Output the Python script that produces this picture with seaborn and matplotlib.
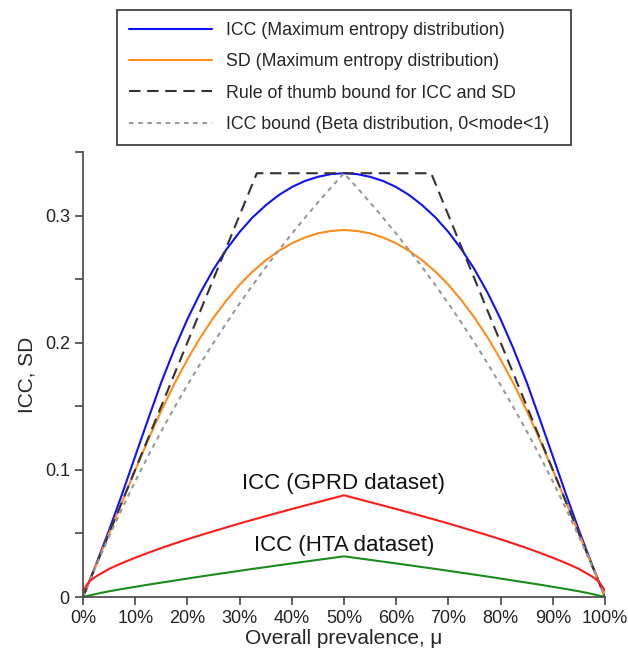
import matplotlib
matplotlib.use("Agg")
import matplotlib.pyplot as plt
import seaborn as sns

# ---------------- data ----------------
prev_me = [0, 0.025, 0.05, 0.075, 0.1, 0.125, 0.15, 0.175, 0.2, 0.225, 0.25, 0.275,
           0.3, 0.325, 0.35, 0.375, 0.4, 0.425, 0.45, 0.475, 0.5,
           0.525, 0.55, 0.575, 0.6, 0.625, 0.65, 0.675, 0.7, 0.725, 0.75, 0.775,
           0.8, 0.825, 0.85, 0.875, 0.9, 0.925, 0.95, 0.975, 1.0]
icc_maxent = [0, 0.0256, 0.0526, 0.0811, 0.1107, 0.1401, 0.1689, 0.1949, 0.2185, 0.2394,
              0.2577, 0.2735, 0.2871, 0.2986, 0.3081, 0.3161, 0.3224, 0.3272, 0.3305,
              0.3326, 0.3333,
              0.3326, 0.3305, 0.3272, 0.3224, 0.3161, 0.3081, 0.2986, 0.2871, 0.2735,
              0.2577, 0.2394, 0.2185, 0.1949, 0.1689, 0.1401, 0.1107, 0.0811, 0.0526,
              0.0256, 0]
sd_maxent = [0, 0.025, 0.05, 0.075, 0.0998, 0.1237, 0.1466, 0.1676, 0.1868, 0.2042,
             0.2197, 0.2334, 0.2456, 0.2560, 0.2648, 0.2722, 0.2782, 0.2827, 0.2860,
             0.2879, 0.2887,
             0.2879, 0.2860, 0.2827, 0.2782, 0.2722, 0.2648, 0.2560, 0.2456, 0.2334,
             0.2197, 0.2042, 0.1868, 0.1676, 0.1466, 0.1237, 0.0998, 0.075, 0.05,
             0.025, 0]

prev_rule = [0, 0.333, 0.667, 1.0]
rule_bound = [0, 0.3333, 0.3333, 0]

prev_beta = [0, 0.025, 0.05, 0.075, 0.1, 0.125, 0.15, 0.175, 0.2, 0.225, 0.25, 0.275,
             0.3, 0.325, 0.35, 0.375, 0.4, 0.425, 0.45, 0.475, 0.5,
             0.525, 0.55, 0.575, 0.6, 0.625, 0.65, 0.675, 0.7, 0.725, 0.75, 0.775,
             0.8, 0.825, 0.85, 0.875, 0.9, 0.925, 0.95, 0.975, 1.0]
beta_bound = [0, 0.0244, 0.0476, 0.0698, 0.0909, 0.1111, 0.1304, 0.1489, 0.1667, 0.1837,
              0.2, 0.2157, 0.2308, 0.2453, 0.2593, 0.2727, 0.2857, 0.2982, 0.3103,
              0.3220, 0.3333,
              0.3220, 0.3103, 0.2982, 0.2857, 0.2727, 0.2593, 0.2453, 0.2308, 0.2157,
              0.2, 0.1837, 0.1667, 0.1489, 0.1304, 0.1111, 0.0909, 0.0698, 0.0476,
              0.0244, 0]

prev_data = [0, 0.0125, 0.025, 0.05, 0.075, 0.1, 0.125, 0.15, 0.175, 0.2, 0.225, 0.25,
             0.275, 0.3, 0.325, 0.35, 0.375, 0.4, 0.425, 0.45, 0.475, 0.5,
             0.525, 0.55, 0.575, 0.6, 0.625, 0.65, 0.675, 0.7, 0.725, 0.75, 0.775,
             0.8, 0.825, 0.85, 0.875, 0.9, 0.925, 0.95, 0.975, 0.9875, 1.0]
icc_gprd = [0.005, 0.0125, 0.0162, 0.0221, 0.0267, 0.0309, 0.0348, 0.0385, 0.0420,
            0.0454, 0.0486, 0.0517, 0.0548, 0.0578, 0.0607, 0.0636, 0.0664, 0.0692,
            0.0719, 0.0746, 0.0773, 0.0800,
            0.0773, 0.0746, 0.0719, 0.0692, 0.0664, 0.0636, 0.0607, 0.0578, 0.0548,
            0.0517, 0.0486, 0.0454, 0.0420, 0.0385, 0.0348, 0.0309, 0.0267, 0.0221,
            0.0162, 0.0125, 0.005]
icc_hta = [0, 0.0012, 0.0024, 0.0045, 0.0063, 0.0080, 0.0097, 0.0113, 0.0129, 0.0145,
           0.0161, 0.0176, 0.0191, 0.0206, 0.0221, 0.0235, 0.0250, 0.0264, 0.0278,
           0.0292, 0.0306, 0.0320,
           0.0306, 0.0292, 0.0278, 0.0264, 0.0250, 0.0235, 0.0221, 0.0206, 0.0191,
           0.0176, 0.0161, 0.0145, 0.0129, 0.0113, 0.0097, 0.0080, 0.0063, 0.0045,
           0.0024, 0.0012, 0]

xtick_vals = [0, 0.1, 0.2, 0.3, 0.4, 0.5, 0.6, 0.7, 0.8, 0.9, 1.0]
xtick_labels = ["0%", "10%", "20%", "30%", "40%", "50%", "60%", "70%", "80%", "90%", "100%"]
ytick_vals = [0, 0.05, 0.1, 0.15, 0.2, 0.25, 0.3, 0.35]
ytick_labels = ["0", "", "0.1", "", "0.2", "", "0.3", ""]

legend_labels = ["ICC (Maximum entropy distribution)",
                 "SD (Maximum entropy distribution)",
                 "Rule of thumb bound for ICC and SD",
                 "ICC bound (Beta distribution, 0<mode<1)"]
label_gprd = "ICC (GPRD dataset)"
label_hta = "ICC (HTA dataset)"

# ---------------- styling ----------------
sns.set_style("ticks")
plt.rcParams["font.family"] = ["Liberation Sans", "DejaVu Sans"]
plt.rcParams["axes.edgecolor"] = "#444444"
plt.rcParams["xtick.color"] = "#444444"
plt.rcParams["ytick.color"] = "#444444"

fig = plt.figure(figsize=(6.28, 6.52), dpi=100)
ax = fig.add_axes([83 / 628, 1 - 597 / 652, 522 / 628, 445 / 652])

lw = 1.5
sns.lineplot(x=prev_me, y=icc_maxent, ax=ax, color="#1010ff", lw=lw, label=legend_labels[0])
sns.lineplot(x=prev_me, y=sd_maxent, ax=ax, color="#ff8c1a", lw=lw, label=legend_labels[1])
sns.lineplot(x=prev_rule, y=rule_bound, ax=ax, color="#333333", lw=lw,
             linestyle=(0, (5.5, 3.2)), label=legend_labels[2])
sns.lineplot(x=prev_beta, y=beta_bound, ax=ax, color="#999999", lw=lw,
             linestyle=(0, (2.2, 2.2)), label=legend_labels[3])
sns.lineplot(x=prev_data, y=icc_gprd, ax=ax, color="#ff1a1a", lw=lw)
sns.lineplot(x=prev_data, y=icc_hta, ax=ax, color="#1a8c1a", lw=lw)

ax.text(0.5, 0.0893, label_gprd, ha="center", va="center", fontsize=16, color="#111111")
ax.text(0.5, 0.0405, label_hta, ha="center", va="center", fontsize=16, color="#111111")

ax.set_xlim(0, 1)
ax.set_ylim(0, 0.35)
ax.set_xticks(xtick_vals)
ax.set_xticklabels(xtick_labels, fontsize=13, color="#222222")
ax.set_yticks(ytick_vals)
ax.set_yticklabels(ytick_labels, fontsize=13, color="#222222")
ax.tick_params(length=6, width=1.2)
for s in ["left", "bottom"]:
    ax.spines[s].set_linewidth(1.2)
sns.despine(ax=ax)
ax.set_xlabel("Overall prevalence, μ", fontsize=15, labelpad=1)
ax.set_ylabel("ICC, SD", fontsize=15, labelpad=6)

handles, labels = ax.get_legend_handles_labels()
ax.get_legend().remove()
leg = fig.legend(handles, labels, loc="upper left",
                 bbox_to_anchor=(117 / 628, 1 - 144 / 652, (571 - 117) / 628, (144 - 10) / 652),
                 bbox_transform=fig.transFigure, mode="expand", borderaxespad=0,
                 fontsize=12.8, handlelength=4.66, handletextpad=0.79, labelspacing=0.8,
                 borderpad=0.68, fancybox=False, framealpha=1, edgecolor="#333333")
leg.get_frame().set_linewidth(1.2)

fig.savefig("out.png", dpi=100)
